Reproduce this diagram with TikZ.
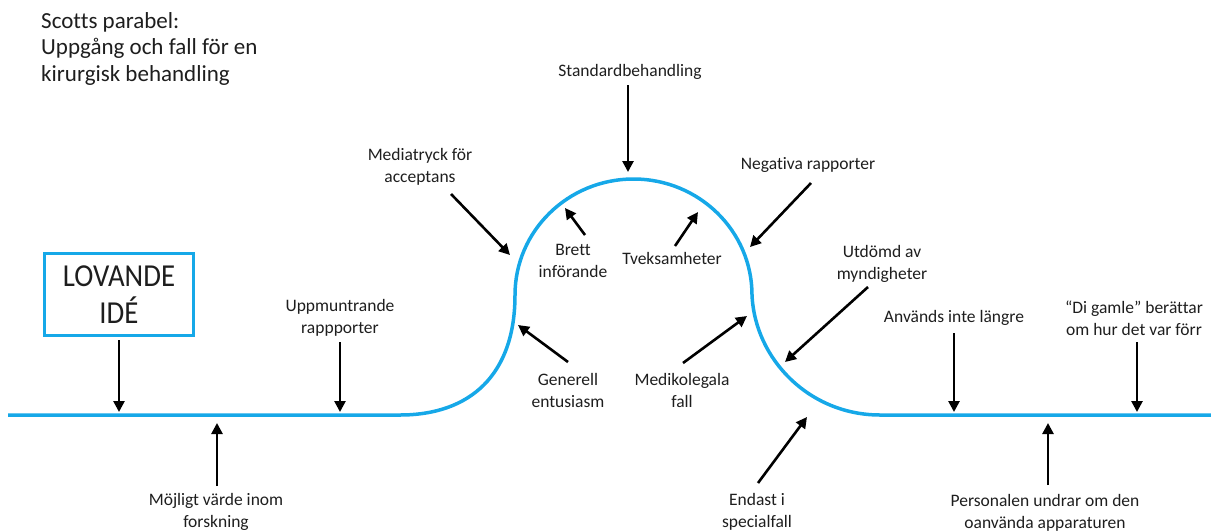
\documentclass[tikz,border=0pt]{standalone}
\usepackage{fontspec}
\setmainfont{Carlito}[Ligatures=NoCommon]
\newfontfamily\boxfont[FakeStretch=0.9]{Carlito}
\usetikzlibrary{arrows.meta}
\definecolor{curveblue}{RGB}{22,168,232}
\definecolor{txtdark}{RGB}{30,30,30}
\begin{document}
\begin{tikzpicture}[x=1pt,y=-1pt,
  lbl/.style={font=\fontsize{17.5}{22}\selectfont, align=center, inner sep=0pt, text=txtdark},
  ttl/.style={font=\fontsize{23}{26.5}\selectfont, align=left, inner sep=0pt, text=txtdark},
  ideabox/.style={draw=curveblue, line width=3pt, minimum width=149pt, minimum height=82pt,
    inner sep=0pt, align=center, font=\boxfont\fontsize{32}{37}\selectfont, text=txtdark},
  arr/.style={line width=2.6pt, -{Triangle[length=11pt,width=11pt]}},
  curve/.style={draw=curveblue, line width=3.5pt}]
\useasboundingbox (0,0) rectangle (1211,531);

% title (base anchor = last line)
\node[ttl, anchor=base west] (title) at (41,81) {Scotts parabel:\\Uppgång och fall för en\\kirurgisk behandling};

% the curve
\draw[curve] (8,415) -- (400,415)
  .. controls (470,415) and (515,375) .. (515,295)
  .. controls (515,231) and (568,179) .. (633.5,179)
  .. controls (699,179) and (752,231) .. (752,295)
  .. controls (755,360) and (810,415) .. (880,415)
  -- (1211,415);

% box
\node[ideabox] (idea) at (119,294.5) {LOVANDE\\IDÉ};

% labels
\node[lbl] (lUpp) at (340,318) {Uppmuntrande\\rappporter};
\node[lbl] (lMoj) at (216,512) {Möjligt värde inom\\forskning};
\node[lbl] (lMed) at (420,167) {Mediatryck för\\acceptans};
\node[lbl] (lStd) at (630,72) {Standardbehandling};
\node[lbl] (lBre) at (573,261) {Brett\\införande};
\node[lbl] (lTve) at (672,258) {Tveksamheter};
\node[lbl] (lNeg) at (808,165) {Negativa rapporter};
\node[lbl] (lUtd) at (882,264) {Utdömd av\\myndigheter};
\node[lbl] (lGen) at (568,390) {Generell\\entusiasm};
\node[lbl] (lMek) at (682,390) {Medikolegala\\fall};
\node[lbl] (lEnd) at (757,512) {Endast i\\specialfall};
\node[lbl] (lAnv) at (954,318) {Används inte längre};
\node[lbl] (lDig) at (1134,318) {“Di gamle” berättar\\om hur det var förr};
\node[lbl] (lPer) at (1045,513) {Personalen undrar om den\\oanvända apparaturen};

% arrow end points
\coordinate (tIdea) at (119,412);
\coordinate (sMoj) at (217,486);  \coordinate (tMoj) at (217,423);
\coordinate (sUpp) at (340,342);  \coordinate (tUpp) at (340,412);
\coordinate (sMed) at (451,194);  \coordinate (tMed) at (510,255);
\coordinate (sStd) at (628,85);   \coordinate (tStd) at (628,172);
\coordinate (sBre) at (585,235);  \coordinate (tBre) at (565,208);
\coordinate (sTve) at (675,246);  \coordinate (tTve) at (698,212);
\coordinate (sNeg) at (811,183);  \coordinate (tNeg) at (750,247);
\coordinate (sUtd) at (868,287);  \coordinate (tUtd) at (785,362);
\coordinate (sGen) at (568,362);  \coordinate (tGen) at (518,325);
\coordinate (sMek) at (683,363);  \coordinate (tMek) at (747,316);
\coordinate (sEnd) at (758,483);  \coordinate (tEnd) at (807,417);
\coordinate (sAnv) at (954,333);  \coordinate (tAnv) at (954,412);
\coordinate (sDig) at (1137,342); \coordinate (tDig) at (1137,412);
\coordinate (sPer) at (1048,485); \coordinate (tPer) at (1048,423);

% arrows
\draw[arr, shorten <=3pt] (idea.south) -- (tIdea);
\draw[arr] (sMoj) -- (tMoj);
\draw[arr] (sUpp) -- (tUpp);
\draw[arr] (sMed) -- (tMed);
\draw[arr] (sStd) -- (tStd);
\draw[arr] (sBre) -- (tBre);
\draw[arr] (sTve) -- (tTve);
\draw[arr] (sNeg) -- (tNeg);
\draw[arr] (sUtd) -- (tUtd);
\draw[arr] (sGen) -- (tGen);
\draw[arr] (sMek) -- (tMek);
\draw[arr] (sEnd) -- (tEnd);
\draw[arr] (sAnv) -- (tAnv);
\draw[arr] (sDig) -- (tDig);
\draw[arr] (sPer) -- (tPer);
\end{tikzpicture}
\end{document}
